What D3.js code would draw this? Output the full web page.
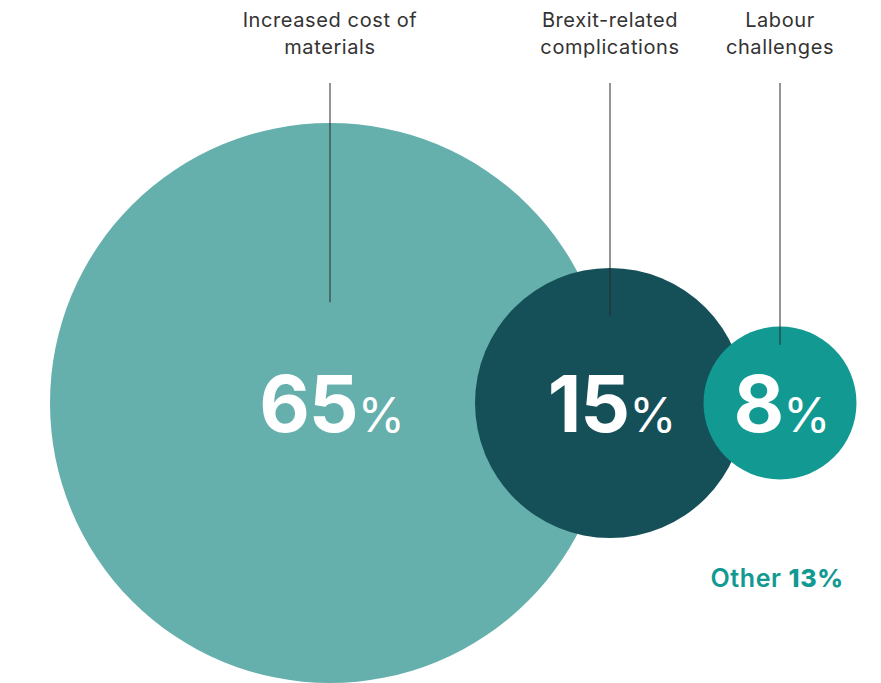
<!DOCTYPE html>
<html>
<head>
<meta charset="utf-8">
<script src="https://cdn.jsdelivr.net/npm/d3@7"></script>
<style>
  html, body { margin: 0; padding: 0; background: #fff; }
  svg { display: block; font-family: Inter, "Noto Sans", sans-serif; }
</style>
</head>
<body>
<svg id="chart" width="881" height="683"></svg>
<script>
// Share of respondents naming each issue as their biggest challenge
const categories = ["Increased cost of materials", "Brexit-related complications", "Labour challenges"];
const labelLines = [["Increased cost of", "materials"], ["Brexit-related", "complications"], ["Labour", "challenges"]];
const values = [65, 15, 8];
const otherLabel = "Other";
const otherValue = 13;

const colors = ["#65b0ac", "#154f58", "#129a92"];
const otherColor = "#129a92";

const svg = d3.select("#chart");
const W = 881, H = 683;
const cy = 403;

// Bubble radius scale
const r = d3.scaleSqrt().domain([8, 15, 65]).range([76.5, 135, 280]);

// Lay bubbles out left to right: the second sits on the first's rim,
// the third overlaps the second slightly.
const radii = values.map(v => r(v));
const cx = [];
cx[0] = 50 + radii[0];
cx[1] = cx[0] + radii[0];
cx[2] = cx[1] + radii[1] + 35;

const data = values.map((v, i) => ({ name: categories[i], lines: labelLines[i], value: v, cx: cx[i], r: radii[i], color: colors[i] }));

// Circles
svg.selectAll("circle.bubble")
  .data(data)
  .join("circle")
  .attr("class", "bubble")
  .attr("cx", d => d.cx)
  .attr("cy", cy)
  .attr("r", d => d.r)
  .attr("fill", d => d.color);

// Leader lines from the labels down into each bubble
const leaderDepth = [0.36, 0.65, 0.76];
svg.selectAll("line.leader")
  .data(data)
  .join("line")
  .attr("class", "leader")
  .attr("x1", d => d.cx)
  .attr("x2", d => d.cx)
  .attr("y1", 83)
  .attr("y2", (d, i) => cy - d.r * leaderDepth[i])
  .attr("stroke", "#2b2b2b")
  .attr("stroke-width", 1);

// Category labels above
const lab = svg.selectAll("text.cat")
  .data(data)
  .join("text")
  .attr("class", "cat")
  .attr("text-anchor", "middle")
  .attr("font-size", 20)
  .attr("letter-spacing", 0.6)
  .attr("fill", "#333")
  .attr("x", d => d.cx)
  .attr("y", 27);
lab.selectAll("tspan")
  .data(d => d.lines.map(l => ({ l, x: d.cx })))
  .join("tspan")
  .attr("x", d => d.x)
  .attr("dy", (d, i) => i === 0 ? 0 : 26.5)
  .text(d => d.l);

// Value labels inside the bubbles
const vl = svg.selectAll("text.val")
  .data(data)
  .join("text")
  .attr("class", "val")
  .attr("text-anchor", "middle")
  .attr("x", d => d.cx + 2)
  .attr("y", 432)
  .attr("fill", "#fff");
vl.append("tspan")
  .attr("font-size", 78)
  .attr("font-weight", 700)
  .attr("letter-spacing", -1)
  .text(d => d.value);
vl.append("tspan")
  .attr("font-size", 48)
  .attr("font-weight", 400)
  .text("%");

// "Other" note
const other = svg.append("text")
  .attr("x", cx[2] - 3)
  .attr("y", 587)
  .attr("text-anchor", "middle")
  .attr("fill", otherColor)
  .attr("font-size", 25)
  .attr("letter-spacing", 0.6);
other.append("tspan").attr("font-weight", 600).text(otherLabel + " ");
other.append("tspan").attr("font-weight", 800).text(otherValue + "%");
</script>
</body>
</html>
